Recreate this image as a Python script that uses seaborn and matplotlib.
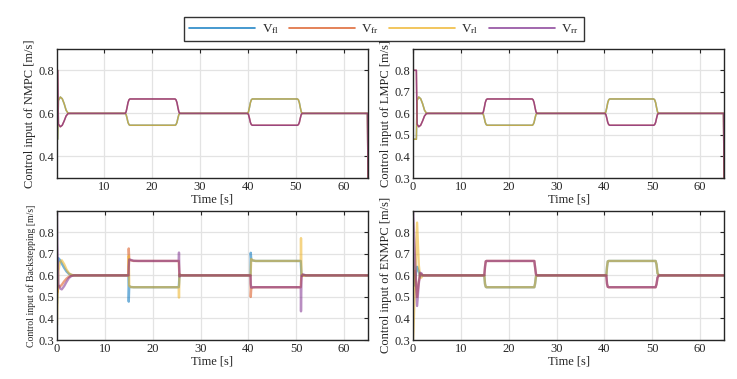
import numpy as np
import pandas as pd
import matplotlib
matplotlib.use("Agg")
import matplotlib.pyplot as plt
import seaborn as sns

# Wheel speed commands for the four controllers.
wheels = ["fl", "fr", "rl", "rr"]
colors = ["#0072BD", "#D95319", "#EDB120", "#7E2F8E"]

# NMPC (fl follows rl, fr follows rr)
nmpc_t = [0.2, 0.35, 0.5, 0.9, 1.3, 1.7, 2.1, 2.5, 3.0,
          14.4, 14.6, 14.8, 15.0, 15.2, 15.4,
          24.8, 25.0, 25.2, 25.4, 25.6, 25.8,
          39.9, 40.1, 40.3, 40.5, 40.7, 40.9,
          50.3, 50.5, 50.7, 50.9, 51.1, 51.3,
          64.9, 65.0]
nmpc_left = [0.48, 0.48, 0.66, 0.676, 0.668, 0.645, 0.615, 0.601, 0.6,
             0.6, 0.595, 0.578, 0.558, 0.548, 0.545,
             0.545, 0.548, 0.558, 0.578, 0.595, 0.6,
             0.6, 0.607, 0.627, 0.650, 0.663, 0.667,
             0.667, 0.663, 0.650, 0.627, 0.607, 0.6,
             0.6, 0.3]
nmpc_right = [0.8, 0.8, 0.55, 0.538, 0.545, 0.565, 0.588, 0.599, 0.6,
              0.6, 0.607, 0.627, 0.650, 0.663, 0.667,
              0.667, 0.663, 0.650, 0.627, 0.607, 0.6,
              0.6, 0.595, 0.578, 0.558, 0.548, 0.545,
              0.545, 0.548, 0.558, 0.578, 0.595, 0.6,
              0.6, 0.3]

# LMPC
lmpc_t = [0.0, 0.7, 0.85, 1.2, 1.6, 2.0, 2.4, 2.8, 3.2,
          14.5, 14.7, 14.9, 15.1, 15.3, 15.5,
          24.9, 25.1, 25.3, 25.5, 25.7, 25.9,
          40.1, 40.3, 40.5, 40.7, 40.9, 41.1,
          50.3, 50.5, 50.7, 50.9, 51.1, 51.3,
          64.9, 65.0]
lmpc_left = [0.48, 0.48, 0.66, 0.676, 0.668, 0.645, 0.615, 0.601, 0.6,
             0.6, 0.595, 0.578, 0.558, 0.548, 0.545,
             0.545, 0.548, 0.558, 0.578, 0.595, 0.6,
             0.6, 0.607, 0.627, 0.650, 0.663, 0.667,
             0.667, 0.663, 0.650, 0.627, 0.607, 0.6,
             0.6, 0.3]
lmpc_right = [0.8, 0.8, 0.55, 0.538, 0.545, 0.565, 0.588, 0.599, 0.6,
              0.6, 0.607, 0.627, 0.650, 0.663, 0.667,
              0.667, 0.663, 0.650, 0.627, 0.607, 0.6,
              0.6, 0.595, 0.578, 0.558, 0.548, 0.545,
              0.545, 0.548, 0.558, 0.578, 0.595, 0.6,
              0.6, 0.3]

# Backstepping
bs_t = [0.0, 0.05, 0.3, 0.6, 1.0, 1.5, 2.0, 2.5, 3.0, 3.5, 4.5,
        14.95, 15.0, 15.1, 15.4, 16.0, 17.0,
        25.45, 25.5, 25.6, 25.9, 26.5, 27.5,
        40.45, 40.5, 40.6, 40.9, 41.5, 42.5,
        50.95, 51.0, 51.1, 51.4, 52.0, 53.0, 65.0]
bs_fl = [0.47, 0.6, 0.68, 0.672, 0.655, 0.635, 0.618, 0.607, 0.602, 0.6, 0.6,
         0.6, 0.478, 0.55, 0.546, 0.545, 0.545,
         0.545, 0.56, 0.603, 0.601, 0.6, 0.6,
         0.6, 0.705, 0.675, 0.669, 0.667, 0.667,
         0.667, 0.64, 0.598, 0.601, 0.6, 0.6, 0.6]
bs_fr = [0.6, 0.52, 0.55, 0.548, 0.556, 0.572, 0.585, 0.594, 0.598, 0.6, 0.6,
         0.6, 0.725, 0.675, 0.67, 0.667, 0.667,
         0.667, 0.64, 0.598, 0.6, 0.6, 0.6,
         0.6, 0.50, 0.538, 0.544, 0.545, 0.545,
         0.545, 0.57, 0.602, 0.6, 0.6, 0.6, 0.6]
bs_rl = [0.37, 0.45, 0.62, 0.66, 0.67, 0.652, 0.627, 0.61, 0.603, 0.6, 0.6,
         0.6, 0.69, 0.552, 0.546, 0.545, 0.545,
         0.545, 0.497, 0.605, 0.601, 0.6, 0.6,
         0.6, 0.62, 0.676, 0.67, 0.667, 0.667,
         0.667, 0.773, 0.61, 0.598, 0.6, 0.6, 0.6]
bs_rr = [0.9, 0.75, 0.56, 0.54, 0.535, 0.55, 0.57, 0.588, 0.597, 0.6, 0.6,
         0.6, 0.64, 0.674, 0.672, 0.668, 0.667,
         0.667, 0.706, 0.595, 0.6, 0.6, 0.6,
         0.6, 0.56, 0.543, 0.545, 0.545, 0.545,
         0.545, 0.433, 0.592, 0.605, 0.6, 0.6, 0.6]

# ENMPC
en_t = [0.0, 0.1, 0.4, 0.85, 1.2, 1.5, 1.75, 2.0, 2.5,
        14.9, 15.05, 15.2, 15.35,
        25.35, 25.5, 25.7, 25.9,
        40.4, 40.55, 40.7, 40.9,
        50.7, 50.9, 51.1, 51.4, 65.0]
en_fl = [0.65, 0.55, 0.58, 0.64, 0.62, 0.595, 0.598, 0.6, 0.6,
         0.6, 0.56, 0.547, 0.545,
         0.545, 0.56, 0.595, 0.6,
         0.6, 0.64, 0.665, 0.667,
         0.667, 0.65, 0.61, 0.6, 0.6]
en_fr = [0.6, 0.62, 0.62, 0.5, 0.57, 0.608, 0.606, 0.6, 0.6,
         0.6, 0.64, 0.665, 0.667,
         0.667, 0.64, 0.605, 0.6,
         0.6, 0.56, 0.547, 0.545,
         0.545, 0.56, 0.59, 0.6, 0.6]
en_rl = [0.3, 0.35, 0.55, 0.845, 0.65, 0.588, 0.59, 0.6, 0.6,
         0.6, 0.56, 0.547, 0.545,
         0.545, 0.56, 0.595, 0.6,
         0.6, 0.64, 0.665, 0.667,
         0.667, 0.65, 0.61, 0.6, 0.6]
en_rr = [0.9, 0.85, 0.68, 0.458, 0.56, 0.612, 0.61, 0.6, 0.6,
         0.6, 0.64, 0.665, 0.667,
         0.667, 0.64, 0.605, 0.6,
         0.6, 0.56, 0.547, 0.545,
         0.545, 0.56, 0.59, 0.6, 0.6]

sns.set_theme(style="whitegrid")
plt.rcParams["font.family"] = ["Liberation Serif", "DejaVu Serif"]
plt.rcParams["mathtext.fontset"] = "custom"
plt.rcParams["mathtext.rm"] = "Liberation Serif"
plt.rcParams["mathtext.it"] = "Liberation Serif:italic"


def to_long(t, series):
    frames = []
    for w, v in zip(wheels, series):
        frames.append(pd.DataFrame({"t": t, "v": v, "wheel": w}))
    return pd.concat(frames, ignore_index=True)


# name, data, line width, alpha, ylabel size
panels = [
    ("NMPC", to_long(nmpc_t, [nmpc_left, nmpc_right, nmpc_left, nmpc_right]), 1.1, 0.72, 9),
    ("LMPC", to_long(lmpc_t, [lmpc_left, lmpc_right, lmpc_left, lmpc_right]), 1.1, 0.72, 9),
    ("Backstepping", to_long(bs_t, [bs_fl, bs_fr, bs_rl, bs_rr]), 1.7, 0.55, 7.0),
    ("ENMPC", to_long(en_t, [en_fl, en_fr, en_rl, en_rr]), 1.7, 0.55, 9),
]

fig = plt.figure(figsize=(7.37, 3.79), dpi=100)
w, h = 0.422, 0.341
boxes = [(0.0773, 0.5303), (0.5604, 0.5303), (0.0773, 0.1029), (0.5604, 0.1029)]

for (name, df, lw, alpha, ysize), (x0, y0) in zip(panels, boxes):
    ax = fig.add_axes([x0, y0, w, h])
    sns.lineplot(data=df, x="t", y="v", hue="wheel", hue_order=wheels,
                 palette=colors, estimator=None, sort=False, lw=lw,
                 alpha=alpha, legend=False, ax=ax)
    ax.set_xlim(0.2 if name == "NMPC" else 0, 65)
    ax.set_ylim(0.3, 0.9)
    if name == "NMPC":
        ax.set_yticks([0.4, 0.6, 0.8])
        ax.set_xticks([10, 20, 30, 40, 50, 60])
    else:
        ax.set_yticks([0.3, 0.4, 0.5, 0.6, 0.7, 0.8])
        ax.set_xticks([0, 10, 20, 30, 40, 50, 60])
    ax.set_yticklabels([f"{v:.1f}" for v in ax.get_yticks()])
    ax.set_xlabel("Time [s]", fontsize=9, labelpad=0.5)
    ax.set_ylabel(f"Control input of {name} [m/s]", fontsize=ysize, labelpad=2)
    ax.grid(True, color="#e3e3e3", lw=0.9)
    ax.tick_params(direction="in", top=True, right=True, length=3, width=0.8,
                   labelsize=9, pad=2, colors="#262626")
    for s in ax.spines.values():
        s.set_color("#262626")
        s.set_linewidth(1.0)

handles = [plt.Line2D([], [], color=c, lw=1.2, alpha=0.85) for c in colors]
labels = [r"V$_{\mathrm{fl}}$", r"V$_{\mathrm{fr}}$", r"V$_{\mathrm{rl}}$", r"V$_{\mathrm{rr}}$"]
leg = fig.legend(handles, labels, loc="upper center", bbox_to_anchor=(0.521, 0.955),
                 ncol=4, frameon=True, fancybox=False, edgecolor="black",
                 handlelength=5.0, columnspacing=0.75, handletextpad=0.5,
                 fontsize=9.5, borderpad=0.4, borderaxespad=0)
leg.get_frame().set_linewidth(1.0)

plt.savefig("out.png", dpi=100)
